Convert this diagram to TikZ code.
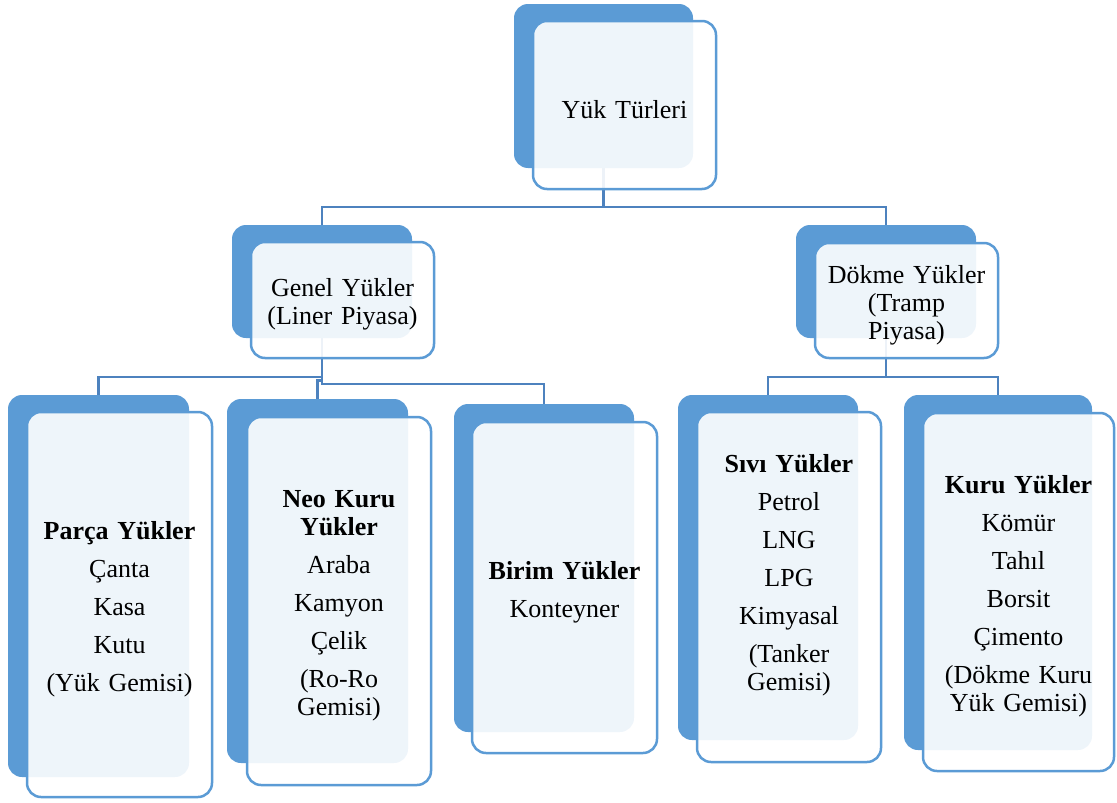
\documentclass[tikz,border=0pt]{standalone}
\usepackage{fontspec}
\setmainfont{Liberation Serif}
\usetikzlibrary{backgrounds}
\definecolor{accent}{HTML}{5B9BD5}
\definecolor{linkc}{HTML}{4D82BE}
\tikzset{
  backbox/.style={fill=accent, draw=none, rounded corners=14pt, inner sep=0pt},
  frontbox/.style={fill=white, fill opacity=0.9, text opacity=1, draw=accent, draw opacity=1,
    line width=2.5pt, rounded corners=14pt, inner sep=0pt, align=center,
    font=\fontsize{26}{28}\selectfont, execute at begin node={\rule{0pt}{27pt}}},
  link/.style={draw=linkc, line width=2.5pt}
}
\begin{document}
\begin{tikzpicture}[x=1pt, y=-1pt]
\useasboundingbox (0,0) rectangle (1117,803);
% level 0
\node[backbox, minimum width=179pt, minimum height=164pt] (topB) at (603.5,86) {};
\node[frontbox, text width=183pt, minimum height=168pt] (topF) at (624.5,105) {Yük Türleri};
% level 1
\node[backbox, minimum width=180pt, minimum height=113pt] (genB) at (322,281.5) {};
\node[frontbox, text width=183pt, minimum height=116pt] (genF) at (342.5,300) {Genel Yükler\\(Liner Piyasa)};
\node[backbox, minimum width=180pt, minimum height=113pt] (dokB) at (886,281.5) {};
\node[frontbox, text width=183pt, minimum height=115pt] (dokF) at (906.5,300.5) {Dökme Yükler\\(Tramp\\Piyasa)};
% level 2
\node[backbox, minimum width=181pt, minimum height=382pt] (parB) at (98.5,586) {};
\node[frontbox, text width=185pt, minimum height=385pt] (parF) at (119.5,604.5)
  {\textbf{Parça Yükler}\\[10pt]Çanta\\[10pt]Kasa\\[10pt]Kutu\\[10pt](Yük Gemisi)};
\node[backbox, minimum width=181pt, minimum height=364pt] (neoB) at (317.5,581) {};
\node[frontbox, text width=184pt, minimum height=368pt] (neoF) at (339,601)
  {\textbf{Neo Kuru}\\\textbf{Yükler}\\[10pt]Araba\\[10pt]Kamyon\\[10pt]Çelik\\[10pt](Ro-Ro\\Gemisi)};
\node[backbox, minimum width=180pt, minimum height=328pt] (birB) at (544,568) {};
\node[frontbox, text width=185pt, minimum height=331pt] (birF) at (564.5,587.5)
  {\textbf{Birim Yükler}\\[10pt]Konteyner};
\node[backbox, minimum width=180pt, minimum height=345pt] (sivB) at (768,567.5) {};
\node[frontbox, text width=184pt, minimum height=350pt] (sivF) at (789,587)
  {\textbf{Sıvı Yükler}\\[10pt]Petrol\\[10pt]LNG\\[10pt]LPG\\[10pt]Kimyasal\\[10pt](Tanker\\Gemisi)\\[10pt]\mbox{}};
\node[backbox, minimum width=188pt, minimum height=355pt] (kurB) at (998,572.5) {};
\node[frontbox, text width=191pt, minimum height=358pt] (kurF) at (1018.5,592)
  {\textbf{Kuru Yükler}\\[10pt]Kömür\\[10pt]Tahıl\\[10pt]Borsit\\[10pt]Çimento\\[10pt](Dökme Kuru\\Yük Gemisi)};
% connector levels
\coordinate (h0) at (0,207);
\coordinate (hA) at (0,377);
\coordinate (hB) at (0,380.5);
\coordinate (hC) at (0,384);
\coordinate (hD) at (0,377);
\begin{scope}[on background layer]
\draw[link] (topB.center) -- (topB.center |- h0) -| (genB.north);
\draw[link] (topB.center |- h0) -| (dokB.north);
\draw[link] (genB.center) -- (genB.center |- hC) -| (birB.north);
\draw[link] (genB.center |- hA) -| (parB.north);
\draw[link] (genB.center |- hB) -| (neoB.north);
\draw[link] (dokB.center) -- (dokB.center |- hD) -| (sivB.north);
\draw[link] (dokB.center |- hD) -| (kurB.north);
\end{scope}
\end{tikzpicture}
\end{document}
